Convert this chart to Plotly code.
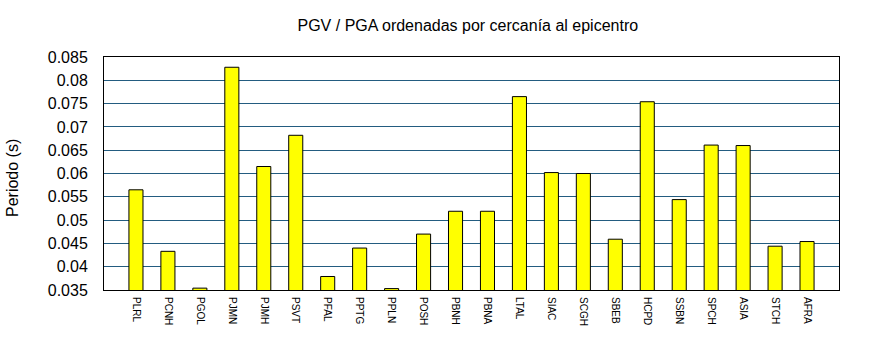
import plotly.graph_objects as go

# Stations sorted by distance to the epicentre
stations = ["PLRL", "PCNH", "PGOL", "PJMN", "PJMH", "PSVT", "PFAL", "PPTG",
            "PPLN", "POSH", "PBNH", "PBNA", "LTAL", "SIAC", "SCGH", "SBEB",
            "HCPD", "SSBN", "SPCH", "ASIA", "STCH", "AFRA"]

# PGV / PGA ratio (period, s)
periods = [0.0565, 0.0433, 0.0354, 0.0828, 0.0615, 0.0682, 0.0379, 0.0440,
           0.0353, 0.0470, 0.0519, 0.0519, 0.0765, 0.0602, 0.0600, 0.0459,
           0.0754, 0.0544, 0.0661, 0.0660, 0.0444, 0.0454]

y_ticks = [0.035, 0.04, 0.045, 0.05, 0.055, 0.06, 0.065, 0.07, 0.075, 0.08, 0.085]

fig = go.Figure(
    go.Bar(
        x=stations,
        y=periods,
        width=0.44,
        marker=dict(color="#ffff00", line=dict(color="#000000", width=1)),
    )
)

fig.update_layout(
    width=870,
    height=350,
    margin=dict(l=104, r=31, t=57, b=60),
    paper_bgcolor="white",
    plot_bgcolor="white",
    showlegend=False,
    font=dict(family="Liberation Sans, Arial, sans-serif", color="#000000"),
    title=dict(
        text="PGV / PGA ordenadas por cercanía al epicentro",
        font=dict(size=16, family="Liberation Sans, Arial, sans-serif"),
        x=0.495, xref="paper", xanchor="center",
        y=1 - 25 / 350, yref="container", yanchor="middle",
    ),
    xaxis=dict(
        type="category",
        range=[-1, 22],
        tickangle=90,
        tickfont=dict(size=10, family="Liberation Sans Narrow, Liberation Sans, Arial"),
        showgrid=False,
        showline=True, linecolor="#000000", linewidth=1, mirror=True,
        ticks="", ticklabelstandoff=4,
    ),
    yaxis=dict(
        range=[0.035, 0.085],
        tickvals=y_ticks,
        ticktext=[f"{v:g}" for v in y_ticks],
        tickfont=dict(size=16),
        showgrid=True, gridcolor="#235c80", gridwidth=1,
        showline=True, linecolor="#000000", linewidth=1, mirror=True,
        zeroline=False,
        ticks="", ticklabelstandoff=12,
    ),
    annotations=[
        dict(
            text="Periodo (s)",
            textangle=-90,
            xref="paper", yref="paper",
            x=(12 - 104) / 735, y=(290 - 178) / 233,
            xanchor="center", yanchor="middle",
            showarrow=False,
            font=dict(size=16),
        )
    ],
)

fig.write_html("out.html")
